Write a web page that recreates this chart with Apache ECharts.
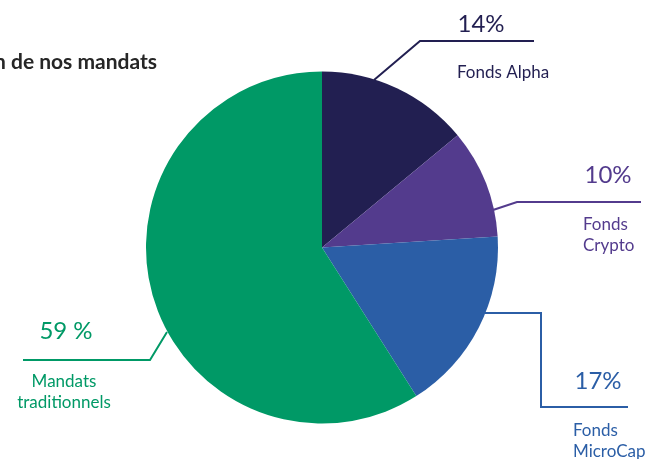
<!DOCTYPE html>
<html><head><meta charset="utf-8">
<script src="https://cdn.jsdelivr.net/npm/echarts@6/dist/echarts.min.js"></script>
<style>html,body{margin:0;padding:0;background:#fff}#c{width:645px;height:459px}</style>
</head><body><div id="c"></div>
<script>
// ---- data ----
const categories = ['Fonds Alpha', 'Fonds Crypto', 'Fonds MicroCap', 'Mandats traditionnels'];
const values = [14, 10, 17, 59];
const pctLabels = ['14%', '10%', '17%', '59 %'];
const nameLabels = ['Fonds Alpha', 'Fonds\nCrypto', 'Fonds\nMicroCap', 'Mandats\ntraditionnels'];
const titleText = 'Répartition de nos mandats';

// ---- styling / layout ----
const colors = ['#221F51', '#533B8D', '#2B5EA6', '#009966'];
const FONT = 'Lato, "Open Sans", sans-serif';
const pctLayout = [
  {x: 481, y: 24, align: 'center', line: [[374,80],[420,41],[534,41]]},
  {x: 608, y: 175, align: 'center', line: [[493,210],[517,202],[641,202]]},
  {x: 598, y: 381, align: 'center', line: [[485,313],[541,313],[541,407],[628,407]]},
  {x: 66,  y: 331, align: 'center', line: [[167,332],[150,360],[23,360]]}
];
const nameLayout = [
  {x: 457, y: 62, align: 'left'},
  {x: 583, y: 214, align: 'left'},
  {x: 573, y: 420, align: 'left'},
  {x: 64,  y: 371, align: 'center'}
];

const chart = echarts.init(document.getElementById('c'), null, {renderer: 'canvas'});
const data = categories.map((c, i) => ({
  name: c, value: values[i],
  itemStyle: {color: colors[i]},
  label: {color: colors[i]},
  labelLine: {lineStyle: {color: colors[i]}}
}));
const center = [322, 247.5];
const radius = 176;
chart.setOption({
  animation: false,
  title: {
    text: titleText, right: 488, top: 52, padding: 0,
    textStyle: {fontFamily: FONT, fontWeight: 'bold', fontSize: 21, color: '#262626'}
  },
  series: [
    {
      type: 'pie', center: center, radius: radius, startAngle: 90, clockwise: true,
      avoidLabelOverlap: false, silent: true,
      data: data,
      label: {
        show: true, position: 'outside', fontFamily: FONT, fontSize: 24,
        formatter: p => pctLabels[p.dataIndex]
      },
      labelLine: {show: true, length: 10, length2: 10, lineStyle: {width: 2}},
      labelLayout: p => {
        const L = pctLayout[p.dataIndex];
        return {x: L.x, y: L.y, align: L.align, verticalAlign: 'middle', labelLinePoints: L.line};
      }
    },
    {
      type: 'pie', center: center, radius: radius, startAngle: 90, clockwise: true,
      avoidLabelOverlap: false, silent: true, z: 1,
      data: categories.map((c, i) => ({
        name: c, value: values[i],
        itemStyle: {color: 'rgba(0,0,0,0)'},
        label: {color: colors[i]}
      })),
      label: {
        show: true, position: 'outside', fontFamily: FONT, fontSize: 17, lineHeight: 21,
        formatter: p => nameLabels[p.dataIndex]
      },
      labelLine: {show: false},
      labelLayout: p => {
        const L = nameLayout[p.dataIndex];
        return {x: L.x, y: L.y, align: L.align, verticalAlign: 'top'};
      }
    }
  ]
});
</script></body></html>
